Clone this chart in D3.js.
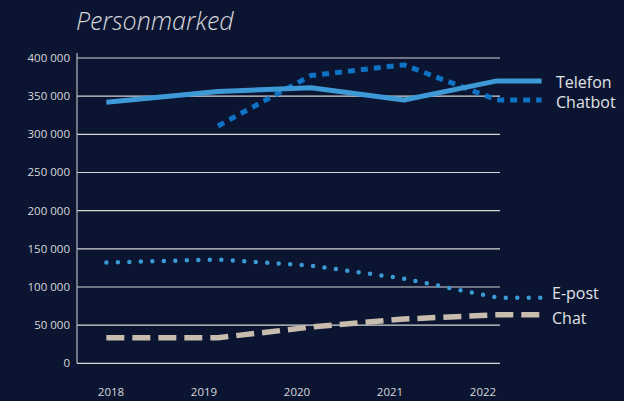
<!DOCTYPE html>
<html><head><meta charset="utf-8">
<script src="https://cdn.jsdelivr.net/npm/d3@7/dist/d3.min.js"></script>
<style>html,body{margin:0;padding:0;background:#0b1531;}svg{display:block}</style>
</head><body><svg id="c" width="624" height="401"></svg>
<script>
// Data
const years = [2018, 2019, 2020, 2021, 2022];
const pointYears = [2017.95, 2019.15, 2020.15, 2021.15, 2022.15];
const legendEndYear = 2022.63;
const yTicks = [0, 50000, 100000, 150000, 200000, 250000, 300000, 350000, 400000];
const telefon = [342000, 356000, 361000, 345000, 370000];
const chatbot = [null, 311000, 377000, 391000, 345000];
const epost = [132000, 136000, 128000, 111000, 86000];
const chat = [33500, 33500, 47500, 58000, 63500];
const seriesNames = ["Telefon", "Chatbot", "E-post", "Chat"];
const labelValues = [368000, 342000, 92000, 59000];

const svg = d3.select("#c");
const x = d3.scaleLinear().domain([2018, 2022]).range([111, 483]);
const y = d3.scaleLinear().domain([0, 400000]).range([363.3, 58]);
const fmt = v => d3.format(",")(v).replace(/,/g, " ");
const font = "'Open Sans', sans-serif";

svg.append("rect").attr("width", 624).attr("height", 401).attr("fill", "#0b1531");

svg.append("text").attr("x", 76).attr("y", 30)
  .attr("font-family", font).attr("font-style", "italic").attr("font-weight", 300)
  .attr("font-size", 25).attr("fill", "#d8d8dc").text("Personmarked");

// grid
svg.append("g").selectAll("line").data(yTicks).join("line")
  .attr("x1", 77).attr("x2", 500).attr("y1", d => y(d)).attr("y2", d => y(d))
  .attr("stroke", "#d6d6d6").attr("stroke-width", 1.2);
svg.append("line").attr("x1", 77).attr("x2", 77).attr("y1", 53).attr("y2", y(0))
  .attr("stroke", "#b8b8bc").attr("stroke-width", 1.2);

// y axis labels
svg.append("g").selectAll("text").data(yTicks).join("text")
  .attr("x", 70).attr("y", d => y(d) + 4).attr("text-anchor", "end")
  .attr("font-family", font).attr("font-size", 11.5).attr("fill", "#d8d8dc")
  .text(fmt);

// x axis labels
svg.append("g").selectAll("text").data(years).join("text")
  .attr("x", d => x(d)).attr("y", 396).attr("text-anchor", "middle")
  .attr("font-family", font).attr("font-size", 11.5).attr("fill", "#d8d8dc")
  .text(d => d);

function pts(vals) {
  const p = pointYears.map((yr, i) => [yr, vals[i]]).filter(d => d[1] != null);
  p.push([legendEndYear, vals[vals.length - 1]]);
  return p;
}
const line = d3.line().x(d => x(d[0])).y(d => y(d[1]));

const styles = [
  {vals: telefon, color: "#3d9ad6", w: 5, dash: null, cap: "butt"},
  {vals: chatbot, color: "#0e73c4", w: 5, dash: "7 6", cap: "butt"},
  {vals: epost, color: "#3a9ad6", w: 4.5, dash: "0 11.5", cap: "round"},
  {vals: chat, color: "#c8bcae", w: 5.5, dash: "18 8", cap: "butt"}
];
[3, 2, 1, 0].forEach(i => {
  const s = styles[i];
  svg.append("path").attr("d", line(pts(s.vals))).attr("fill", "none")
    .attr("stroke", s.color).attr("stroke-width", s.w)
    .attr("stroke-dasharray", s.dash).attr("stroke-linecap", s.cap)
    .attr("stroke-linejoin", "round");
});

// labels
svg.append("g").selectAll("text").data(seriesNames).join("text")
  .attr("x", (d, i) => i < 2 ? 556 : 552).attr("y", (d, i) => y(labelValues[i]))
  .attr("dominant-baseline", "central")
  .attr("font-family", font).attr("font-size", 16).attr("fill", "#e2e2e6")
  .text(d => d);
</script></body></html>
